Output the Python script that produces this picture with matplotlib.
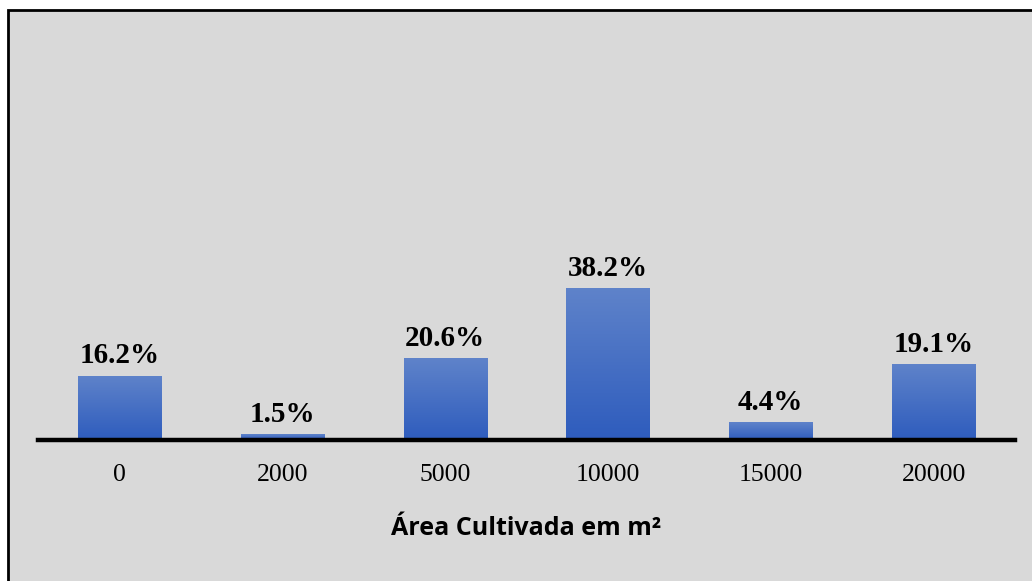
import numpy as np
import matplotlib.pyplot as plt
from matplotlib.patches import Rectangle
from matplotlib.colors import LinearSegmentedColormap

# Data
categories = ['0', '2000', '5000', '10000', '15000', '20000']
percent = [16.2, 1.5, 20.6, 38.2, 4.4, 19.1]
labels = ['16.2%', '1.5%', '20.6%', '38.2%', '4.4%', '19.1%']

W, H = 1032, 581
fig = plt.figure(figsize=(W / 100, H / 100), dpi=100)
fig.patch.set_facecolor('white')

# grey panel with black border, running off right / bottom edge
panel = Rectangle((8 / W, 0 - 5 / H), 1.2, (H - 10 + 5) / H, transform=fig.transFigure,
                  facecolor='#d9d9d9', edgecolor='black', linewidth=2, zorder=-10)
fig.patches.append(panel)

ax_left, ax_right = 38, 1015
ax_bottom, ax_top = 440, 42
ax = fig.add_axes([ax_left / W, (H - ax_bottom) / H, (ax_right - ax_left) / W, (ax_bottom - ax_top) / H])
ax.set_facecolor('none')

x = np.arange(len(categories))
bars = ax.bar(x, percent, width=0.51, color='#4472c4', zorder=2)

# vertical gradient in each bar
grad = np.linspace(0, 1, 256).reshape(-1, 1)
cmap = LinearSegmentedColormap.from_list('g', ['#2e5cbd', '#5f83ca'])
for b in bars:
    x0, y0 = b.get_x(), b.get_y()
    w, h = b.get_width(), b.get_height()
    im = ax.imshow(grad, extent=[x0, x0 + w, y0, y0 + h], origin='lower', aspect='auto',
                   cmap=cmap, zorder=3)
    im.set_clip_path(b)
ax.set_xlim(-0.5, 5.5)
ax.set_ylim(0, 100)

for xi, v, lab in zip(x, percent, labels):
    ax.text(xi, v + 1.6, lab, ha='center', va='bottom', family='Liberation Serif',
            fontweight='bold', fontsize=21, color='black')

for s in ['top', 'left', 'right']:
    ax.spines[s].set_visible(False)
ax.spines['bottom'].set_linewidth(3.2)
ax.spines['bottom'].set_zorder(5)
ax.set_yticks([])
ax.set_xticks(x)
ax.set_xticklabels(categories, family='Liberation Serif', fontsize=18.5)
ax.tick_params(axis='x', length=0, pad=17)

ax.set_xlabel('Área Cultivada em m²', family='Open Sans', fontweight='bold', fontsize=18,
              labelpad=22)

fig.savefig('out.png', dpi=100)
